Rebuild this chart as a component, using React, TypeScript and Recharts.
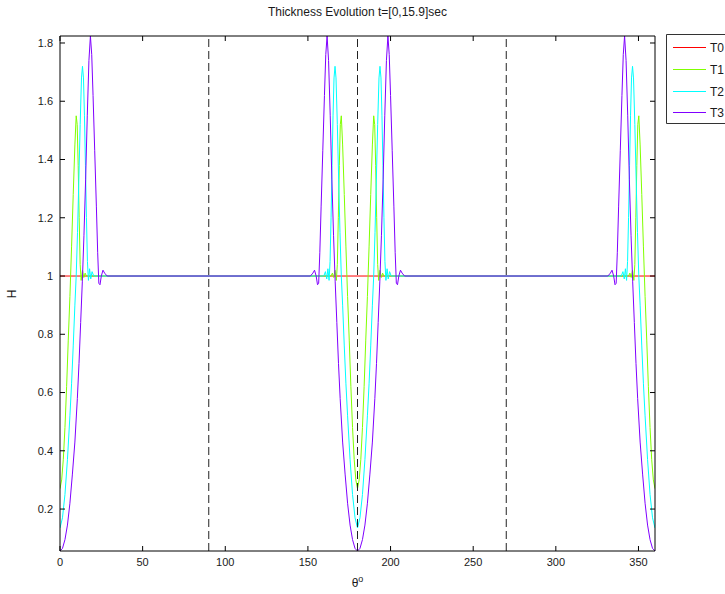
import React from "react";
import { LineChart, Line, XAxis, YAxis, ReferenceLine } from "recharts";

// ---- data ----
const TITLE = "Thickness Evolution t=[0,15.9]sec";
const SERIES_NAMES = ["T0", "T1", "T2", "T3"];
const SERIES_COLORS = ["#ff0000", "#80ff00", "#00ffff", "#8000ff"];

const X_DOMAIN = [0, 360];
const Y_DOMAIN = [0.056, 1.824];
const X_TICKS = [0, 50, 100, 150, 200, 250, 300, 350];
const Y_TICKS = [0.2, 0.4, 0.6, 0.8, 1, 1.2, 1.4, 1.6, 1.8];
const DASHED_X = [90, 180, 270];

// every series repeats the same (mirrored) lobe around these angles
const LOBE_CENTERS = [0, 180, 360];

// T0 is flat
const T0_THETA = [0, 360];
const T0_H = [1, 1];

// offset from lobe centre (deg) -> H
const T1_OFFSET = [0, 1, 2, 3, 4, 5, 6, 7, 8, 9, 9.8, 10.4, 11, 11.6, 12.2, 12.8, 13.6, 14.4, 15.2, 16];
const T1_H = [0.27, 0.3, 0.37, 0.48, 0.62, 0.78, 0.93, 1.1, 1.28, 1.45, 1.55, 1.52, 1.38, 1.2, 1.04, 0.985, 1.02, 0.995, 1.01, 1];

const T2_OFFSET = [0, 1.5, 3, 4.5, 6, 7, 8, 9, 9.8, 10.6, 11.4, 12.2, 13, 13.6, 14.2, 14.8, 15.4, 16, 16.6, 17.2, 17.9, 18.6, 19.4, 20.4];
const T2_H = [0.135, 0.17, 0.25, 0.37, 0.52, 0.63, 0.76, 0.9, 1.0, 1.15, 1.33, 1.52, 1.68, 1.72, 1.68, 1.55, 1.38, 1.2, 1.05, 0.985, 1.025, 0.99, 1.015, 1];

const T3_OFFSET = [0, 1.5, 3, 4.5, 6, 7.5, 9, 10.5, 11.5, 12.5, 13.5, 14.5, 15.5, 16.5, 17.5, 18.4, 19.2, 20, 21, 22, 22.8, 23.5, 24.2, 25, 26, 27, 28.5];
const T3_H = [0.056, 0.065, 0.095, 0.145, 0.22, 0.32, 0.43, 0.58, 0.7, 0.84, 0.98, 1.14, 1.33, 1.55, 1.74, 1.824, 1.76, 1.62, 1.43, 1.24, 1.08, 0.975, 0.97, 1.0, 1.02, 1.01, 1];

// ---- layout ----
const W = 725;
const H = 594;
const PLOT = { left: 60, right: 655, top: 36, bottom: 551 };
const TICK_LEN = 5;
const TICK_MARGIN = 7;
const FONT = "'Liberation Sans', Arial, Helvetica, sans-serif";
const INK = "#1a1a1a";

type Pt = { x: number; y: number };

function flat(theta: number[], h: number[]): Pt[] {
  return theta.map((t, i) => ({ x: t, y: h[i] }));
}

function lobes(offsets: number[], h: number[]): Pt[] {
  const pts: Pt[] = [];
  for (const c of LOBE_CENTERS) {
    for (let i = offsets.length - 1; i >= 1; i--) {
      const t = c - offsets[i];
      if (t >= X_DOMAIN[0]) pts.push({ x: t, y: h[i] });
    }
    for (let i = 0; i < offsets.length; i++) {
      const t = c + offsets[i];
      if (t <= X_DOMAIN[1]) pts.push({ x: t, y: h[i] });
    }
  }
  return pts;
}

const SERIES: Pt[][] = [
  flat(T0_THETA, T0_H),
  lobes(T1_OFFSET, T1_H),
  lobes(T2_OFFSET, T2_H),
  lobes(T3_OFFSET, T3_H),
];

function XTick(props: any) {
  const { x, y, payload } = props;
  return (
    <g>
      <line x1={x} x2={x} y1={PLOT.bottom} y2={PLOT.bottom - TICK_LEN} stroke="#000" />
      <line x1={x} x2={x} y1={PLOT.top} y2={PLOT.top + TICK_LEN} stroke="#000" />
      <text x={x} y={y} dy="0.71em" textAnchor="middle" fontSize={11} fontFamily={FONT} fill={INK}>
        {payload.value}
      </text>
    </g>
  );
}

function YTick(props: any) {
  const { x, y, payload } = props;
  return (
    <g>
      <line x1={PLOT.left} x2={PLOT.left + TICK_LEN} y1={y} y2={y} stroke="#000" />
      <line x1={PLOT.right} x2={PLOT.right - TICK_LEN} y1={y} y2={y} stroke="#000" />
      <text x={x} y={y} dy="0.355em" textAnchor="end" fontSize={11} fontFamily={FONT} fill={INK}>
        {payload.value}
      </text>
    </g>
  );
}

// legend box runs off the right edge of the figure, as in the original
function LegendBox() {
  const rowH = 21.8;
  return (
    <svg width={60} height={92} style={{ position: "absolute", left: 665, top: 33 }}>
      <path d="M60,1.5 H1.5 V90.5 H60" fill="#fff" stroke="#333" />
      {SERIES_NAMES.map((name, i) => {
        const cy = 14 + Math.round(i * rowH);
        return (
          <g key={name}>
            <rect x={8} y={cy} width={33} height={1} fill={SERIES_COLORS[i]} />
            <text x={45} y={cy + 0.5} dy="0.36em" fontSize={12} fontFamily={FONT} fill={INK}>
              {name}
            </text>
          </g>
        );
      })}
    </svg>
  );
}

export default function App() {
  return (
    <div
      style={{
        position: "absolute",
        left: 0,
        top: 0,
        width: W,
        height: H,
        overflow: "hidden",
        background: "#fff",
        fontFamily: FONT,
      }}
    >
      <LineChart
        width={W}
        height={H}
        margin={{ top: PLOT.top, right: W - PLOT.right, bottom: 0, left: 0 }}
      >
        <XAxis
          dataKey="x"
          type="number"
          domain={X_DOMAIN}
          ticks={X_TICKS}
          allowDataOverflow
          height={H - PLOT.bottom}
          tickLine={false}
          tickSize={0}
          tickMargin={TICK_MARGIN}
          axisLine={{ stroke: "#000" }}
          tick={<XTick />}
        />
        <YAxis
          dataKey="y"
          type="number"
          domain={Y_DOMAIN}
          ticks={Y_TICKS}
          allowDataOverflow
          width={PLOT.left}
          tickLine={false}
          tickSize={0}
          tickMargin={TICK_MARGIN}
          axisLine={{ stroke: "#000" }}
          tick={<YTick />}
        />
        {SERIES.map((data, i) => (
          <Line
            key={SERIES_NAMES[i]}
            data={data}
            dataKey="y"
            name={SERIES_NAMES[i]}
            type="linear"
            stroke={SERIES_COLORS[i]}
            strokeWidth={1}
            dot={false}
            activeDot={false}
            isAnimationActive={false}
          />
        ))}
        {DASHED_X.map((v) => (
          <ReferenceLine key={v} x={v} stroke="#222" strokeDasharray="8 4" />
        ))}
        <ReferenceLine y={Y_DOMAIN[1]} stroke="#000" />
        <ReferenceLine x={X_DOMAIN[1]} stroke="#000" />
      </LineChart>

      {/* title */}
      <div
        style={{
          position: "absolute",
          left: PLOT.left,
          width: PLOT.right - PLOT.left,
          top: 5,
          textAlign: "center",
          fontSize: 12,
          lineHeight: "14px",
          color: INK,
        }}
      >
        {TITLE}
      </div>

      {/* x label */}
      <div
        style={{
          position: "absolute",
          left: PLOT.left,
          width: PLOT.right - PLOT.left,
          top: 576,
          textAlign: "center",
          fontSize: 12,
          lineHeight: "14px",
          color: INK,
        }}
      >
        θ<sup style={{ fontSize: 9, verticalAlign: "5px", lineHeight: 0 }}>o</sup>
      </div>

      {/* y label */}
      <div
        style={{
          position: "absolute",
          left: 12,
          top: (PLOT.top + PLOT.bottom) / 2,
          transform: "translate(-50%, -50%) rotate(-90deg)",
          fontSize: 12,
          lineHeight: "14px",
          color: INK,
        }}
      >
        H
      </div>

      <LegendBox />
    </div>
  );
}
